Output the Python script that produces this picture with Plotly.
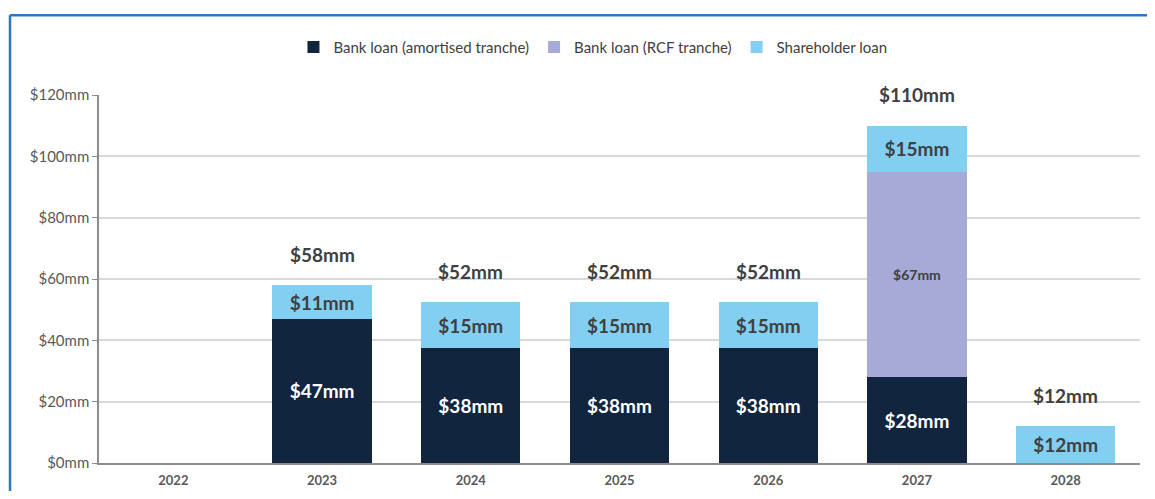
import plotly.graph_objects as go

years = ["2022", "2023", "2024", "2025", "2026", "2027", "2028"]
amortised = [0, 47, 37.5, 37.5, 37.5, 28, 0]
rcf = [0, 0, 0, 0, 0, 67, 0]
shareholder = [0, 11, 15, 15, 15, 15, 12]
amortised_txt = ["", "$47mm", "$38mm", "$38mm", "$38mm", "$28mm", ""]
rcf_txt = ["", "", "", "", "", "$67mm", ""]
shareholder_txt = ["", "$11mm", "$15mm", "$15mm", "$15mm", "$15mm", "$12mm"]
totals = [0, 58, 52.5, 52.5, 52.5, 110, 12]
total_txt = ["", "$58mm", "$52mm", "$52mm", "$52mm", "$110mm", "$12mm"]

font = "Lato, 'Open Sans', sans-serif"

fig = go.Figure()
fig.add_trace(go.Bar(
    x=years, y=amortised, name="Bank loan (amortised tranche)",
    marker=dict(color="#12253F", line=dict(width=0)),
    text=amortised_txt, textposition="inside", insidetextanchor="middle",
    textfont=dict(color="white", size=19, family=font, weight="bold"),
))
fig.add_trace(go.Bar(
    x=years, y=rcf, name="Bank loan (RCF tranche)",
    marker=dict(color="#A7AAD6", line=dict(width=0)),
    text=rcf_txt, textposition="inside", insidetextanchor="middle",
    textfont=dict(color="#404040", size=14, family=font, weight="bold"),
))
fig.add_trace(go.Bar(
    x=years, y=shareholder, name="Shareholder loan",
    marker=dict(color="#82CFF2", line=dict(width=0)),
    text=shareholder_txt, textposition="inside", insidetextanchor="middle",
    textfont=dict(color="#404040", size=19, family=font, weight="bold"),
))

# total labels above each stack (x given as category index)
for i, (tot, txt) in enumerate(zip(totals, total_txt)):
    if txt:
        fig.add_annotation(x=i, y=tot, text=txt, showarrow=False,
                           yanchor="middle", yshift=31,
                           font=dict(size=19, color="#404040", family=font, weight="bold"))

# blue frame on the left and top
fig.add_shape(type="line", xref="paper", yref="paper", x0=-0.0855, x1=-0.0855, y0=-0.2, y1=1.217,
              line=dict(color="#2E75C8", width=2.5))
fig.add_shape(type="line", xref="paper", yref="paper", x0=-0.0855, x1=1.1, y0=1.217, y1=1.217,
              line=dict(color="#2E75C8", width=2.5))

fig.update_layout(
    barmode="stack",
    bargap=0.333,
    width=1139, height=483,
    margin=dict(l=91, r=7, t=87, b=28),
    paper_bgcolor="white", plot_bgcolor="white",
    font=dict(family=font, color="#595959"),
    legend=dict(orientation="h", x=0.4745, xanchor="center", y=1.13, yanchor="middle",
                font=dict(size=15, color="#404040"), traceorder="normal",
                itemwidth=30, bgcolor="rgba(0,0,0,0)"),
    xaxis=dict(type="category", showline=True, linecolor="#8C8C8C", linewidth=1.5,
               tickfont=dict(size=13, color="#595959", weight="bold"),
               ticks="", ticklabelstandoff=5, showgrid=False, automargin=False),
    yaxis=dict(range=[0, 120], dtick=20, tickprefix="$", ticksuffix="mm",
               showline=True, linecolor="#8C8C8C", linewidth=1.5,
               ticks="outside", ticklen=5, tickcolor="#8C8C8C",
               gridcolor="#D9D9D9", gridwidth=1.5, automargin=False,
               tickfont=dict(size=15, color="#595959"), zeroline=False),
)

fig.write_html("out.html")
